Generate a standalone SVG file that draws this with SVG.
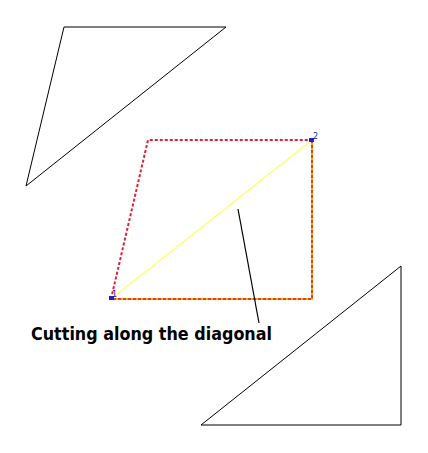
<svg xmlns="http://www.w3.org/2000/svg" width="428" height="453" viewBox="0 0 428 453">
<style>
.tri{fill:none;stroke:#000;stroke-width:1}
.red{fill:none;stroke:#e0203a;stroke-width:2;stroke-dasharray:3,2}
.org{fill:none;stroke:#f0b000;stroke-width:2}
.orgd{fill:none;stroke:#e04020;stroke-width:2;stroke-dasharray:3,2}
.diag{stroke:#ffff60;stroke-width:1.2}
.lbl{font-family:"DejaVu Sans",sans-serif;font-size:8px;fill:#2020c0}
.cap{font-family:"DejaVu Sans",sans-serif;font-weight:bold;font-size:17px;fill:#000}
</style>
<rect width="428" height="453" fill="#fff"/>
<g id="triangle-top"><polygon class="tri" points="64,27 226,27 26,186"/></g>
<g id="triangle-bottom"><polygon class="tri" points="401,266 401,425 201,425"/></g>
<g id="parallelogram">
<polyline class="org" points="312,140 312,299 111,299"/>
<polyline class="orgd" points="312,140 312,299 111,299"/>
<polyline class="red" points="111,299 148,140 312,140"/>
</g>
<g id="connectors">
<line class="diag" x1="111" y1="299" x2="312" y2="140"/>
<line x1="238" y1="209" x2="259" y2="323" stroke="#000" stroke-width="1.2"/>
</g>
<g id="point-1"><rect x="109" y="296" width="5" height="4" fill="#2020c0"/><text class="lbl" x="112" y="297">1</text></g>
<g id="point-2"><rect x="309" y="138" width="5" height="4" fill="#2020c0"/><text class="lbl" x="313" y="139">2</text></g>
<g id="caption"><text class="cap" x="31" y="340" textLength="241" lengthAdjust="spacingAndGlyphs">Cutting along the diagonal</text></g>
</svg>
